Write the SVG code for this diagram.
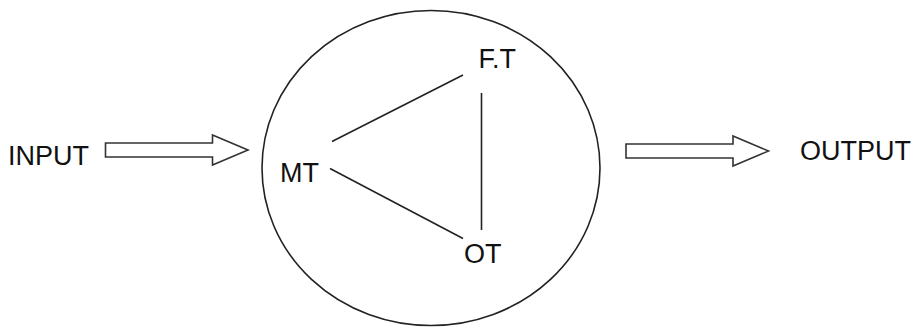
<svg xmlns="http://www.w3.org/2000/svg" width="913" height="328" viewBox="0 0 913 328">
<style>
text{font-family:"Liberation Sans",Arial,sans-serif;font-size:27px;fill:#111}
.ln{stroke:#222;stroke-width:1.6;fill:none}
.arr{fill:#fff;stroke:#333;stroke-width:1.6;stroke-linejoin:miter}
</style>
<defs>
<polygon id="bigArrow" points="105.5,143 212.5,143 212.5,135 248,150 212.5,165 212.5,157 105.5,157"/>
</defs>
<rect width="913" height="328" fill="#fff"/>
<g id="system">
<ellipse cx="431" cy="168" rx="169" ry="157.5" class="ln"/>
</g>
<g id="connectors">
<line x1="332" y1="141.5" x2="463" y2="75" class="ln"/>
<line x1="330" y1="168.5" x2="463" y2="238.5" class="ln"/>
<line x1="481.5" y1="93" x2="481.5" y2="230" class="ln"/>
<use href="#bigArrow" class="arr"/>
<use href="#bigArrow" class="arr" transform="translate(520.5,1)"/>
</g>
<g id="input"><text x="8" y="165">INPUT</text></g>
<g id="output"><text x="800" y="160">OUTPUT</text></g>
<g id="mt"><text x="280" y="182">MT</text></g>
<g id="ft"><text x="478.5" y="68">F.T</text></g>
<g id="ot"><text x="464" y="263">OT</text></g>
</svg>
